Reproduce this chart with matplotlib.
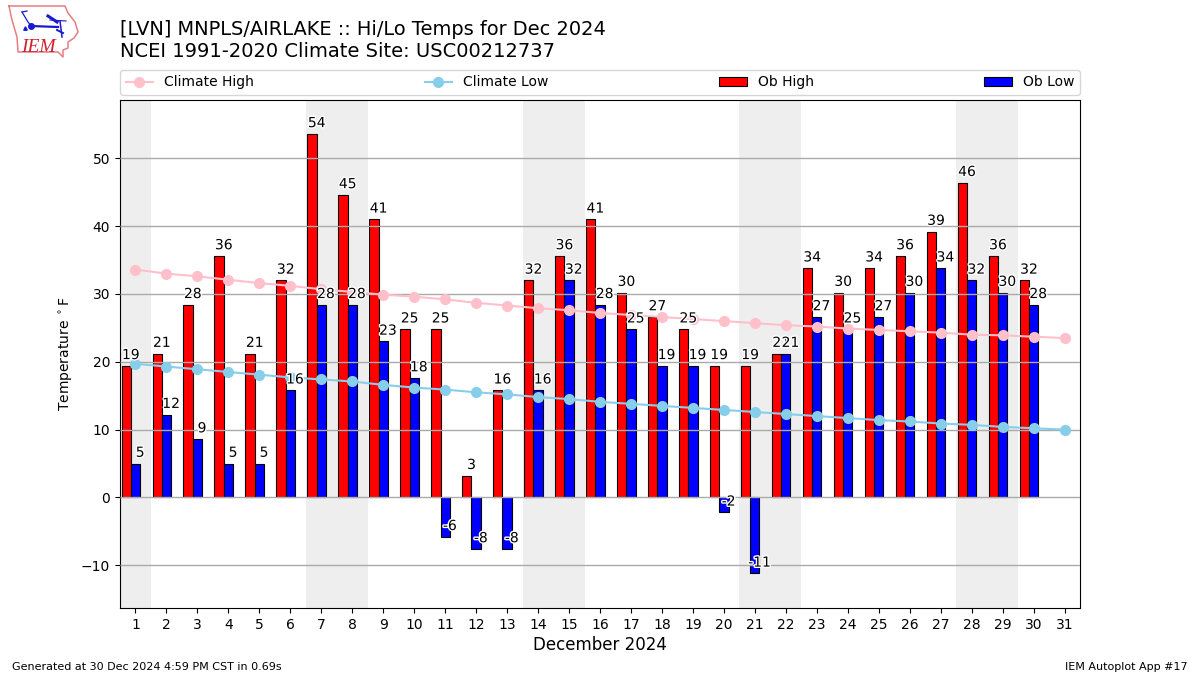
#!/usr/bin/env python3
"""Hi/Lo temps for Dec 2024 at LVN, with climate lines and the IEM footer."""
import numpy as np
import matplotlib
matplotlib.use("Agg")
import matplotlib.pyplot as plt
import matplotlib.patheffects as pe

days = list(range(1, 32))
ob_days = list(range(1, 31))
ob_high = [19.4, 21.2, 28.4, 35.6, 21.2, 32.0, 53.6, 44.6, 41.0, 24.8,
           24.8, 3.2, 15.8, 32.0, 35.6, 41.0, 30.2, 26.6, 24.8, 19.4,
           19.4, 21.2, 33.8, 30.2, 33.8, 35.6, 39.2, 46.4, 35.6, 32.0]
ob_low = [5.0, 12.2, 8.6, 5.0, 5.0, 15.8, 28.4, 28.4, 23.0, 17.6,
          -5.8, -7.6, -7.6, 15.8, 32.0, 28.4, 24.8, 19.4, 19.4, -2.2,
          -11.2, 21.2, 26.6, 24.8, 26.6, 30.2, 33.8, 32.0, 30.2, 28.4]
clim_high = [33.6, 33.0, 32.6, 32.1, 31.6, 31.2, 30.7, 30.3, 29.9, 29.6, 29.2,
             28.7, 28.3, 27.9, 27.6, 27.2, 26.9, 26.6, 26.3, 26.0, 25.7,
             25.4, 25.2, 24.9, 24.7, 24.5, 24.3, 24.0, 23.9, 23.7, 23.5]
clim_low = [19.7, 19.3, 18.9, 18.5, 18.1, 17.7, 17.4, 17.1, 16.6, 16.2, 15.9,
            15.5, 15.2, 14.8, 14.5, 14.1, 13.8, 13.5, 13.2, 12.9, 12.6,
            12.3, 12.0, 11.7, 11.4, 11.2, 10.9, 10.7, 10.4, 10.2, 10.0]
weekends = [(0.5, 1.5), (6.5, 8.5), (13.5, 15.5), (20.5, 22.5), (27.5, 29.5)]
y_ticks = [-10, 0, 10, 20, 30, 40, 50]

W = 0.3
fig = plt.figure(figsize=(12, 6.75), dpi=100)
ax = fig.add_axes([120 / 1200, 1 - 608 / 675, 960 / 1200, 508 / 675])

for a, b in weekends:
    ax.axvspan(a, b, color="#EEEEEE", lw=0, zorder=0)

x = np.array(ob_days)
b1 = ax.bar(x - 0.30, ob_high, W, color="r", ec="k", lw=0.8, label="Ob High", zorder=2)
b2 = ax.bar(x, ob_low, W, color="b", ec="k", lw=0.8, label="Ob Low", zorder=2)
ax.grid(axis="y", color="#aaaaaa", lw=1, zorder=3)
ax.set_axisbelow(False)
l1, = ax.plot(days, clim_high, color="pink", marker="o", ms=7, lw=1.5,
              label="Climate High", zorder=4)
l2, = ax.plot(days, clim_low, color="skyblue", marker="o", ms=7, lw=1.5,
              label="Climate Low", zorder=4)

stroke = [pe.withStroke(linewidth=2, foreground="white")]
for xs, vals in ((x - 0.15, ob_high), (x + 0.15, ob_low)):
    for xv, v in zip(xs, vals):
        ax.text(xv, v + 1, f"{v:.0f}", ha="center", va="baseline", fontsize=10,
                path_effects=stroke, zorder=5)

ax.set_xlim(0.5, 31.5)
ax.set_ylim(-16.3, 58.6)
ax.set_xticks(days)
ax.set_yticks(y_ticks)
ax.set_xlabel("December 2024", fontsize=12, labelpad=3)
ax.set_ylabel(r"Temperature $^\circ$F")

ax.legend([l1, l2, b1, b2], ["Climate High", "Climate Low", "Ob High", "Ob Low"],
          ncol=4, mode="expand", loc="lower left", borderaxespad=0,
          bbox_to_anchor=(0, 1.01, 1, 0.05), fontsize=10)

fig.text(120 / 1200, 1 - 35 / 675, "[LVN] MNPLS/AIRLAKE :: Hi/Lo Temps for Dec 2024",
         fontsize=13.95, va="baseline")
fig.text(120 / 1200, 1 - 57 / 675, "NCEI 1991-2020 Climate Site: USC00212737",
         fontsize=14, va="baseline")
fig.text(12 / 1200, 1 - 670 / 675, "Generated at 30 Dec 2024 4:59 PM CST in 0.69s",
         fontsize=8, va="baseline")
fig.text(1188 / 1200, 1 - 670 / 675, "IEM Autoplot App #17", fontsize=8,
         ha="right", va="baseline")

# little IEM logo, pixels of the top left corner
lg = fig.add_axes([0, 1 - 65 / 675, 90 / 1200, 65 / 675])
lg.set_xlim(0, 90)
lg.set_ylim(65, 0)
lg.axis("off")
lg.plot([9, 65, 68, 75, 78, 74, 68, 68, 63, 63, 58, 18, 17, 12, 9],
        [6, 6, 13, 22, 32, 38, 42, 48, 50, 57, 52, 52, 37, 20, 6],
        color="#e58080", lw=1.1)
lg.plot([31, 58], [26, 27], color="#1a1ad0", lw=1.6)
lg.plot([31], [26], "o", color="#1a1ad0", ms=4)
lg.plot([48, 57], [16, 22], color="#1a1ad0", lw=2.2)
lg.plot([50, 66], [20, 21], color="#1a1ad0", lw=0.8)
lg.plot([22, 28, 31], [12, 22, 26], color="#1a1ad0", lw=0.9)
lg.plot([22, 27], [12, 11], color="#1a1ad0", lw=0.9)
lg.plot([60, 62], [21, 37], color="#1a1ad0", lw=1.1)
lg.plot([57, 63], [30, 33], color="#1a1ad0", lw=1.4)
lg.plot([25], [28], "^", color="#1a1ad0", ms=2.5)
lg.text(21, 52, "IEM", family="Liberation Serif", style="italic", color="#d02030", fontsize=14)

fig.savefig("out.png", dpi=100)
